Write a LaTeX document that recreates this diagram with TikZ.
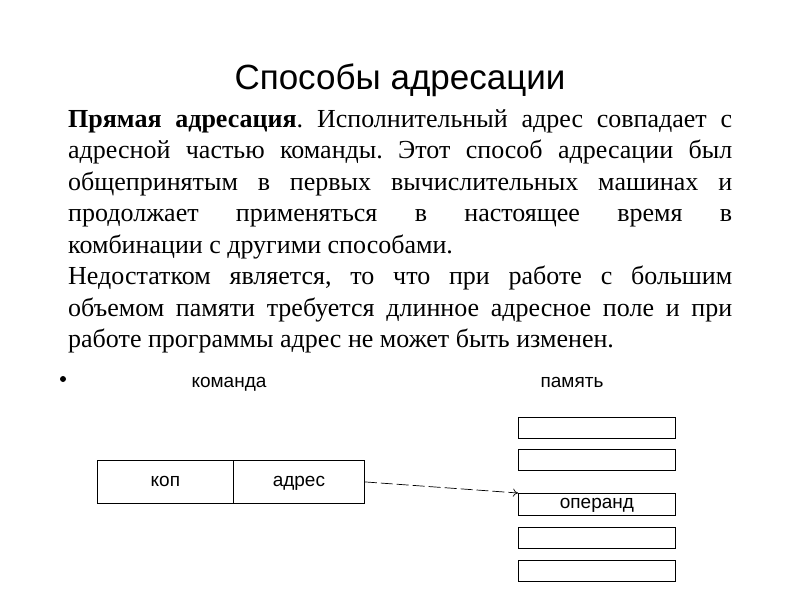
\documentclass[tikz,border=0pt]{standalone}
\usepackage{fontspec}
\setmainfont{Liberation Serif}
\newfontfamily\arialf{Liberation Sans}
\usetikzlibrary{arrows.meta}
\begin{document}
\begin{tikzpicture}[x=1pt,y=-1pt,
  cell/.style={draw,line width=0.8pt,inner sep=0pt,anchor=north west,text height=13pt,text depth=4pt},
  lbl/.style={font=\arialf\fontsize{19}{22}\selectfont}]
\useasboundingbox (0,0) rectangle (800,600);
\node[font=\arialf\fontsize{35}{40}\selectfont] (title) at (400,80) {Способы адресации};
\node[anchor=north west,inner sep=0pt,text width=664pt,align=justify,
  font=\fontsize{26}{31.5}\selectfont] (body) at (68,109)
 {\frenchspacing\textbf{Прямая адресация}. Исполнительный адрес совпадает с\linebreak адресной частью команды. Этот способ адресации был\linebreak общепринятым в первых вычислительных машинах и\linebreak продолжает применяться в настоящее время в\linebreak комбинации с другими способами.\par
 Недостатком является, то что при работе с большим\linebreak объемом памяти требуется длинное адресное поле и при\linebreak работе программы адрес не может быть изменен.};
\fill (63,379) circle (3);
\node[lbl] (cmd) at (229,384) {команда};
\node[lbl] (mem) at (572,382) {память};
\node[cell,minimum width=136pt,minimum height=43pt,lbl] (kop) at (97,460) {коп};
\node[cell,minimum width=131pt,minimum height=43pt,lbl] (adr) at (233,460) {адрес};
\node[cell,minimum width=157pt,minimum height=21pt] (m1) at (518,417) {};
\node[cell,minimum width=157pt,minimum height=21pt] (m2) at (518,449) {};
\node[cell,minimum width=157pt,minimum height=22pt,lbl] (m3) at (518,493) {операнд};
\node[cell,minimum width=157pt,minimum height=21pt] (m4) at (518,527) {};
\node[cell,minimum width=157pt,minimum height=21pt] (m5) at (518,560) {};
\draw[dash pattern=on 12pt off 4pt,-{To[length=5pt,width=8pt]},line width=0.7pt] (adr.east) -- (m3.north west);
\end{tikzpicture}
\end{document}
